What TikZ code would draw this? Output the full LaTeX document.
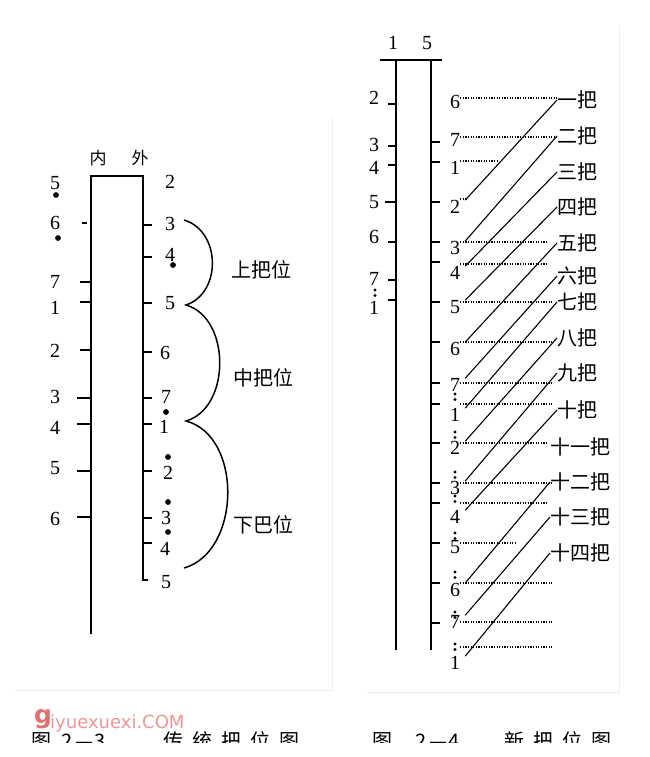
\documentclass[tikz,border=0pt]{standalone}
\usepackage{fontspec}
\setmainfont{Liberation Serif}
\newfontfamily\cjk{Noto Sans CJK SC}
\newfontfamily\wmfont{DejaVu Sans}
\usetikzlibrary{positioning}
\definecolor{wmpink}{RGB}{238, 150, 150}
\definecolor{wmred}{RGB}{226, 112, 112}
\definecolor{edgegray}{RGB}{238, 238, 238}

\tikzset{
  num/.style={font=\fontsize{20}{20}\selectfont, inner sep=0pt},
  hz/.style={font=\cjk\fontsize{20}{20}\selectfont, inner sep=0pt},
  hzsmall/.style={font=\cjk\fontsize{17}{17}\selectfont, inner sep=0pt},
  bar/.style={line width=1.8pt},
  tk/.style={line width=1.3pt},
  bow/.style={line width=1.5pt},
  guide/.style={line width=1.1pt, dash pattern=on 1.1pt off 1.5pt},
  slant/.style={line width=1.1pt},
}

\begin{document}
\begin{tikzpicture}[x=1pt, y=-1pt]
  \useasboundingbox (0,0) rectangle (650,757);
  \fill[white] (0,0) rectangle (650,757);

  % 扫描边缘
  \draw[edgegray, line width=0.8pt] (332,118) -- (332,690) -- (15,690);
  \draw[edgegray, line width=0.8pt] (619,25) -- (619,692) -- (367,692);

  % ===== 图2-3 传统把位 =====
  \node[hzsmall] (nei) at (98,158) {内};
  \node[hzsmall] (wai) at (140,158) {外};
  \draw[bar] (91,634) -- (91,176) -- (143,176) -- (143,580) -- (148,580);

  % 内弦
  \foreach \i/\d/\y/\t/\a/\e in {1/5/183/0/0/0, 2/6/223/223/82/87, 3/7/282/282/80/91,
      4/1/308/302/80/91, 5/2/351/350/80/91, 6/3/397/398/77/91, 7/4/428/424/77/91,
      8/5/468/471/77/91, 9/6/519/517/77/91}{
    \node[num] (l\i) at (55,\y) {\d};
    \ifnum\t>0 \draw[tk] (\a,\t) -- (\e,\t); \fi
  }
  \fill (56,195) circle (2.9) (58,238) circle (2.9);

  % 外弦
  \foreach \i/\d/\x/\y/\t in {1/2/170/182/0, 2/3/170/224/225, 3/4/170/255/257,
      4/5/170/303/303, 5/6/165/353/352, 6/7/166/397/398, 7/1/164/427/424,
      8/2/168/473/471, 9/3/166/518/518, 10/4/165/549/543, 11/5/166/582/0}{
    \node[num] (r\i) at (\x,\y) {\d};
    \ifnum\t>0 \draw[tk] (143,\t) -- (152,\t); \fi
  }
  \fill (173,265) circle (2.9) (166,412) circle (2.9) (168,457) circle (2.9)
        (168,502) circle (2.9) (168,532) circle (2.9);

  % 把位弧线
  \coordinate (a0) at (184,220);
  \coordinate (a1) at (186,305);
  \coordinate (a2) at (186,421);
  \coordinate (a3) at (184,568);
  \draw[bow] (a0) .. controls (221,231) and (222,293) .. (a1)
             .. controls (231,318) and (231,408) .. (a2)
             .. controls (243,436) and (241,552) .. (a3);
  \node[hz] (shang) at (261,270) {上把位};
  \node[hz] (zhong) at (263,378) {中把位};
  \node[hz] (xia) at (263,525) {下巴位};

  % ===== 图2-4 新把位 =====
  \node[num] (h1) at (393,43) {1};
  \node[num] (h5) at (427,43) {5};
  \draw[bar] (380,60) -- (442,60);
  \draw[bar] (396,60) -- (396,650);
  \draw[bar] (431,60) -- (431,650);

  % 内弦
  \foreach \i/\d/\y/\t/\a in {1/2/98/104/388, 2/3/145/146/388, 3/4/168/165/388,
      4/5/202/202/385, 5/6/237/242/388, 6/7/279/280/388, 7/1/308/300/388}{
    \node[num] (p\i) at (374,\y) {\d};
    \draw[tk] (\a,\t) -- (396,\t);
  }
  \fill (375,290) circle (1.6) (375,295.5) circle (1.6);

  % 外弦：音 / 字高 / 虚线高 / 虚线止 / 品 / 点
  \foreach \i/\d/\y/\g/\gx/\t/\o in {1/6/102/98/557/0/0, 2/7/140/137/557/142/0,
      3/1/168/161/497/162/0, 4/2/207/199/468/202/0, 5/3/248/242/547/242/0,
      6/4/273/264/547/262/0, 7/5/307/302/552/302/0, 8/6/349/342/552/342/0,
      9/7/385/383/552/383/0, 10/1/415/404/552/404/394, 11/2/448/443/548/443/432,
      12/3/488/483/552/483/472, 13/4/517/503/548/503/496, 14/5/547/543/515/543/533,
      15/6/590/583/552/583/572, 16/7/622/622/552/623/612, 17/1/663/647/552/0/644}{
    \node[num] (n\i) at (455,\y) {\d};
    \ifnum\t>0 \draw[tk] (431,\t) -- (440,\t); \fi
    \draw[guide] (n\i.east |- 0,\g) -- (\gx,\g);
    \ifnum\o>0 \fill (455,\o) circle (1.6) (455,\o+5.5) circle (1.6); \fi
  }

  % 把位名称
  \foreach \i/\x/\y/\t in {1/557/100/一把, 2/557/136/二把, 3/557/172/三把,
      4/557/207/四把, 5/557/243/五把, 6/557/276/六把, 7/557/302/七把,
      8/557/338/八把, 9/557/373/九把, 10/557/410/十把, 11/550/447/十一把,
      12/550/482/十二把, 13/550/517/十三把, 14/550/553/十四把}{
    \node[hz, anchor=west] (b\i) at (\x,\y) {\t};
  }

  % 斜线
  \foreach \s/\e in {4/1, 5/2, 6/3, 7/4, 8/5, 9/6, 10/7, 11/8, 12/9, 13/10,
      15/12, 16/13, 17/14}{
    \draw[slant] ([xshift=5pt]n\s.north east) -- (b\e.west);
  }

  % 图题（被裁切）
  \begin{scope}
    \clip (0,700) rectangle (650,742);
    \node[hz] (t3a) at (41,741) {图};
    \node[hz] (t3b) at (84,741) {2\hspace{2pt}—\hspace{2pt}3};
    \node[hz] (t3c) at (231,741) {传\hspace{9pt}统\hspace{9pt}把\hspace{9pt}位\hspace{9pt}图};
    \node[hz] (t4a) at (382,741) {图};
    \node[hz] (t4b) at (438,741) {2\hspace{2pt}—\hspace{2pt}4};
    \node[hz] (t4c) at (558,741) {新\hspace{9pt}把\hspace{9pt}位\hspace{9pt}图};
  \end{scope}

  % 水印
  \node[font=\wmfont\bfseries\fontsize{25}{25}\selectfont, text=wmred, inner sep=0pt,
        anchor=base west] (wmg) at (34,723) {g};
  \node[font=\wmfont\fontsize{18}{18}\selectfont, text=wmpink, inner sep=0pt,
        anchor=base west] (wm) at (50,728) {iyuexuexi.COM};
\end{tikzpicture}
\end{document}
